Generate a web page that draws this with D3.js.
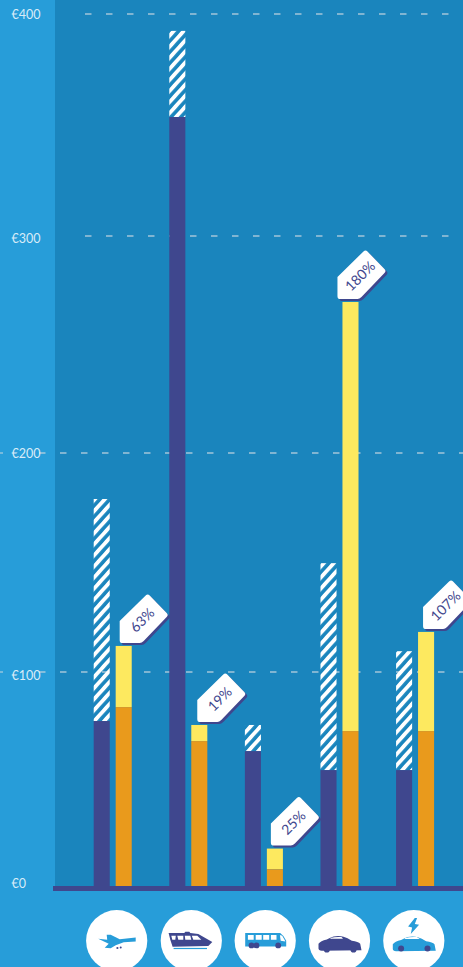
<!DOCTYPE html>
<html><head><meta charset="utf-8">
<script src="https://cdnjs.cloudflare.com/ajax/libs/d3/7.8.5/d3.min.js"></script>
<style>html,body{margin:0;padding:0;background:#279dd9;overflow:hidden}svg{display:block}</style>
</head><body><svg id="c" width="463" height="967"></svg>
<script>
const modes = ["plane","train","bus","car","ecar"];
const baseFare = [77.5, 353.6, 63.7, 55, 55];
const fullFare = [179, 392.4, 75.7, 149.7, 109.5];
const lowCost = [83.9, 68.3, 9.5, 72.9, 72.9];
const highCost = [111.9, 75.7, 19, 269.6, 118.3];
const tagLabels = ["63%","19%","25%","180%","107%"];
const tagShift = [4, 6, 4, -5, 5];
const yTicks = [0,100,200,300,400];
const labelNudge = [-7,3,0,2,0.5];

const W=463,H=967,NAVY="#3f478e",LIGHT="#279dd9",DARK="#1a85bd",YEL="#fde95f",ORG="#e99a1c";
const svg=d3.select("#c");
const y=d3.scaleLinear().domain(yTicks).range([890,672,453,236,14]);
const x0=d3.scaleBand().domain(modes).range([93.7,434.1]).paddingInner(0.497).paddingOuter(0);
const x1=d3.scaleBand().domain(["a","b"]).range([0,x0.bandwidth()]).paddingInner(0.27).paddingOuter(0);

const defs=svg.append("defs");
const p=defs.append("pattern").attr("id","hatch").attr("patternUnits","userSpaceOnUse")
 .attr("width",7.4).attr("height",7.4).attr("patternTransform","rotate(42)");
p.append("rect").attr("width",3.8).attr("height",7.4).attr("fill","#fff");

svg.append("rect").attr("width",W).attr("height",H).attr("fill",LIGHT);
svg.append("rect").attr("x",55).attr("width",W-55).attr("height",887).attr("fill",DARK);

// grid
const gridColor="#c4d6de";
function gridLine(t,a,b){
  svg.append("line").attr("x1",a).attr("x2",b).attr("y1",y(t)).attr("y2",y(t))
   .attr("stroke",gridColor).attr("stroke-opacity",.8).attr("stroke-width",1.3).attr("stroke-dasharray","6.5 14.5");
}
[300,400].forEach(t=>gridLine(t,85,W));
[100,200].forEach(t=>{gridLine(t,-3,3);gridLine(t,39,W);});

// axis labels
svg.append("g").selectAll("text").data(yTicks).join("text")
 .attr("x",11.5).attr("y",(d,i)=>y(d)+labelNudge[i]+4.5).attr("fill","#f2f9fd").attr("fill-opacity",.88)
 .attr("font-family","Lato, 'Open Sans', sans-serif").attr("font-weight",400).attr("font-size",12.5)
 .text(d=>"€"+d);

const g=svg.append("g").selectAll("g").data(modes).join("g").attr("transform",d=>`translate(${x0(d)},0)`);
function bar(vals,key,fill,from){
  g.append("rect").attr("x",x1(key)).attr("width",x1.bandwidth())
   .attr("y",(d,i)=>y(vals[i])).attr("height",(d,i)=>(from?y(from[i]):887)-y(vals[i])).attr("fill",fill);
}
bar(fullFare,"a","url(#hatch)",baseFare);
bar(baseFare,"a",NAVY);
bar(highCost,"b",YEL,lowCost);
bar(lowCost,"b",ORG);

// axis bar
svg.append("rect").attr("x",53).attr("y",886).attr("width",W-53).attr("height",5).attr("fill",NAVY);

// tags
const tagPath="M2,0 Q0,0 0,-3 L0,-22 L26,-47.5 Q28,-49.5 30,-47.5 L47,-30 Q49,-28 47,-26 L24,-2 Q22,0 20,0 Z";
const tags=svg.append("g").selectAll("g").data(modes).join("g")
 .attr("transform",(d,i)=>`translate(${x0(d)+x1("b")+tagShift[i]},${y(highCost[i])-3})`);
tags.append("path").attr("d",tagPath).attr("fill",NAVY).attr("transform","translate(2,2)");
tags.append("path").attr("d",tagPath).attr("fill","#fff");
tags.append("text").attr("transform","translate(22.5,-23) rotate(-45)").attr("text-anchor","middle").attr("dy","0.36em")
 .attr("fill",NAVY).attr("font-family","Lato, 'Open Sans', sans-serif").attr("font-size",14)
 .text((d,i)=>tagLabels[i]);

// icons
const centers=[116.7,191.3,265.2,339.5,413.8];
const icons=svg.append("g").selectAll("g").data(modes).join("g").attr("transform",(d,i)=>`translate(${centers[i]},940.7)`);
icons.append("circle").attr("r",30.6).attr("fill","#fff");
const carBody="M-21,3 Q-19,0 -12.7,-1.3 Q-9,-3.5 -6,-4.3 Q0,-5 4,-4 Q8,-3 12.3,0 Q19,1 20.7,3 L22,9.5 L-17.7,10 Q-21,9.5 -21,7.7 Z";
const draw={
 plane(s){
  s.append("path").attr("fill",LIGHT).attr("d","M-18.5,-2 L-9.5,-1 L-10,-6 L-6,-6 L3,-1.5 L19,-3.3 L19,.7 L7,1.5 L-1,4.5 L-6,7.5 L-12,7 L-8,3 Z");
  s.append("circle").attr("cx",0.7).attr("cy",7.3).attr("r",1.1).attr("fill",NAVY);
  s.append("circle").attr("cx",4).attr("cy",6.7).attr("r",1).attr("fill",NAVY);
 },
 train(s){
  s.append("path").attr("fill",NAVY).attr("d","M-22.7,-7.7 L-7,-7.7 L-6,-9 L-2,-9 L-1,-7.7 L7,-6.7 L21,1.3 L17,5.3 L-18.7,6 L-21,-1 Z");
  s.append("path").attr("fill","#fff").attr("d","M-20,-5 L-15.5,-5 L-16,-1 L-19,-1 Z M-14,-5 L-8,-5 L-8,-1 L-13,-1 Z M-6.5,-5 L-1,-5 L0,-1 L-6,-1 Z M0.5,-5 L6,-5 L10,-1 L2,-1 Z");
  s.append("rect").attr("x",-17.7).attr("y",7.2).attr("width",33.4).attr("height",1.2).attr("fill",LIGHT);
 },
 bus(s){
  s.append("path").attr("fill",LIGHT).attr("d","M-20,-7.7 L15,-7.7 Q19,-5 21,0 L21,5.7 L-20,5.7 Z");
  s.append("path").attr("fill","#fff").attr("d","M-17.3,-5.7 L-11.5,-5.7 L-11.5,-1 L-17.3,-1 Z M-9.5,-5.7 L-3.5,-5.7 L-3.5,-1 L-9.5,-1 Z M-2,-5.7 L4,-5.7 L4,-1 L-2,-1 Z M5.7,-5.7 L11.3,-5.7 L11.3,-1 L5.7,-1 Z M14.7,-5.7 L17,-5 L20.3,0.7 L15.5,0 Z");
  [-13.7,-8.7,13].forEach(c=>s.append("circle").attr("cx",c).attr("cy",4.7).attr("r",2.9).attr("fill",NAVY));
 },
 car(s){
  s.append("path").attr("fill",NAVY).attr("d",carBody);
  s.append("path").attr("fill","#fff").attr("d","M-9,-2.8 Q-4,-4 2,-3.6 L3.5,-2 L-9,-2 Z");
  [-12.7,14].forEach(c=>s.append("circle").attr("cx",c).attr("cy",8.7).attr("r",3.1).attr("fill",NAVY));
 },
 ecar(s){
  s.append("path").attr("fill",LIGHT).attr("d",carBody).attr("transform","translate(0,0.5)");
  s.append("path").attr("fill","#fff").attr("d","M-9,-2.5 Q-4,-4 3,-3.6 L6,-1.7 L-9,-1.7 Z");
  [-12.7,13.7].forEach(c=>s.append("circle").attr("cx",c).attr("cy",7.7).attr("r",3).attr("fill",NAVY));
  s.append("path").attr("fill",LIGHT).attr("d","M1,-22.7 L3.3,-22.7 L1,-16.7 L5.3,-16 L-3,-6.7 L-1.7,-13.3 L-5.7,-14.3 Z");
 }
};
icons.each(function(d){draw[d](d3.select(this));});
</script></body></html>
